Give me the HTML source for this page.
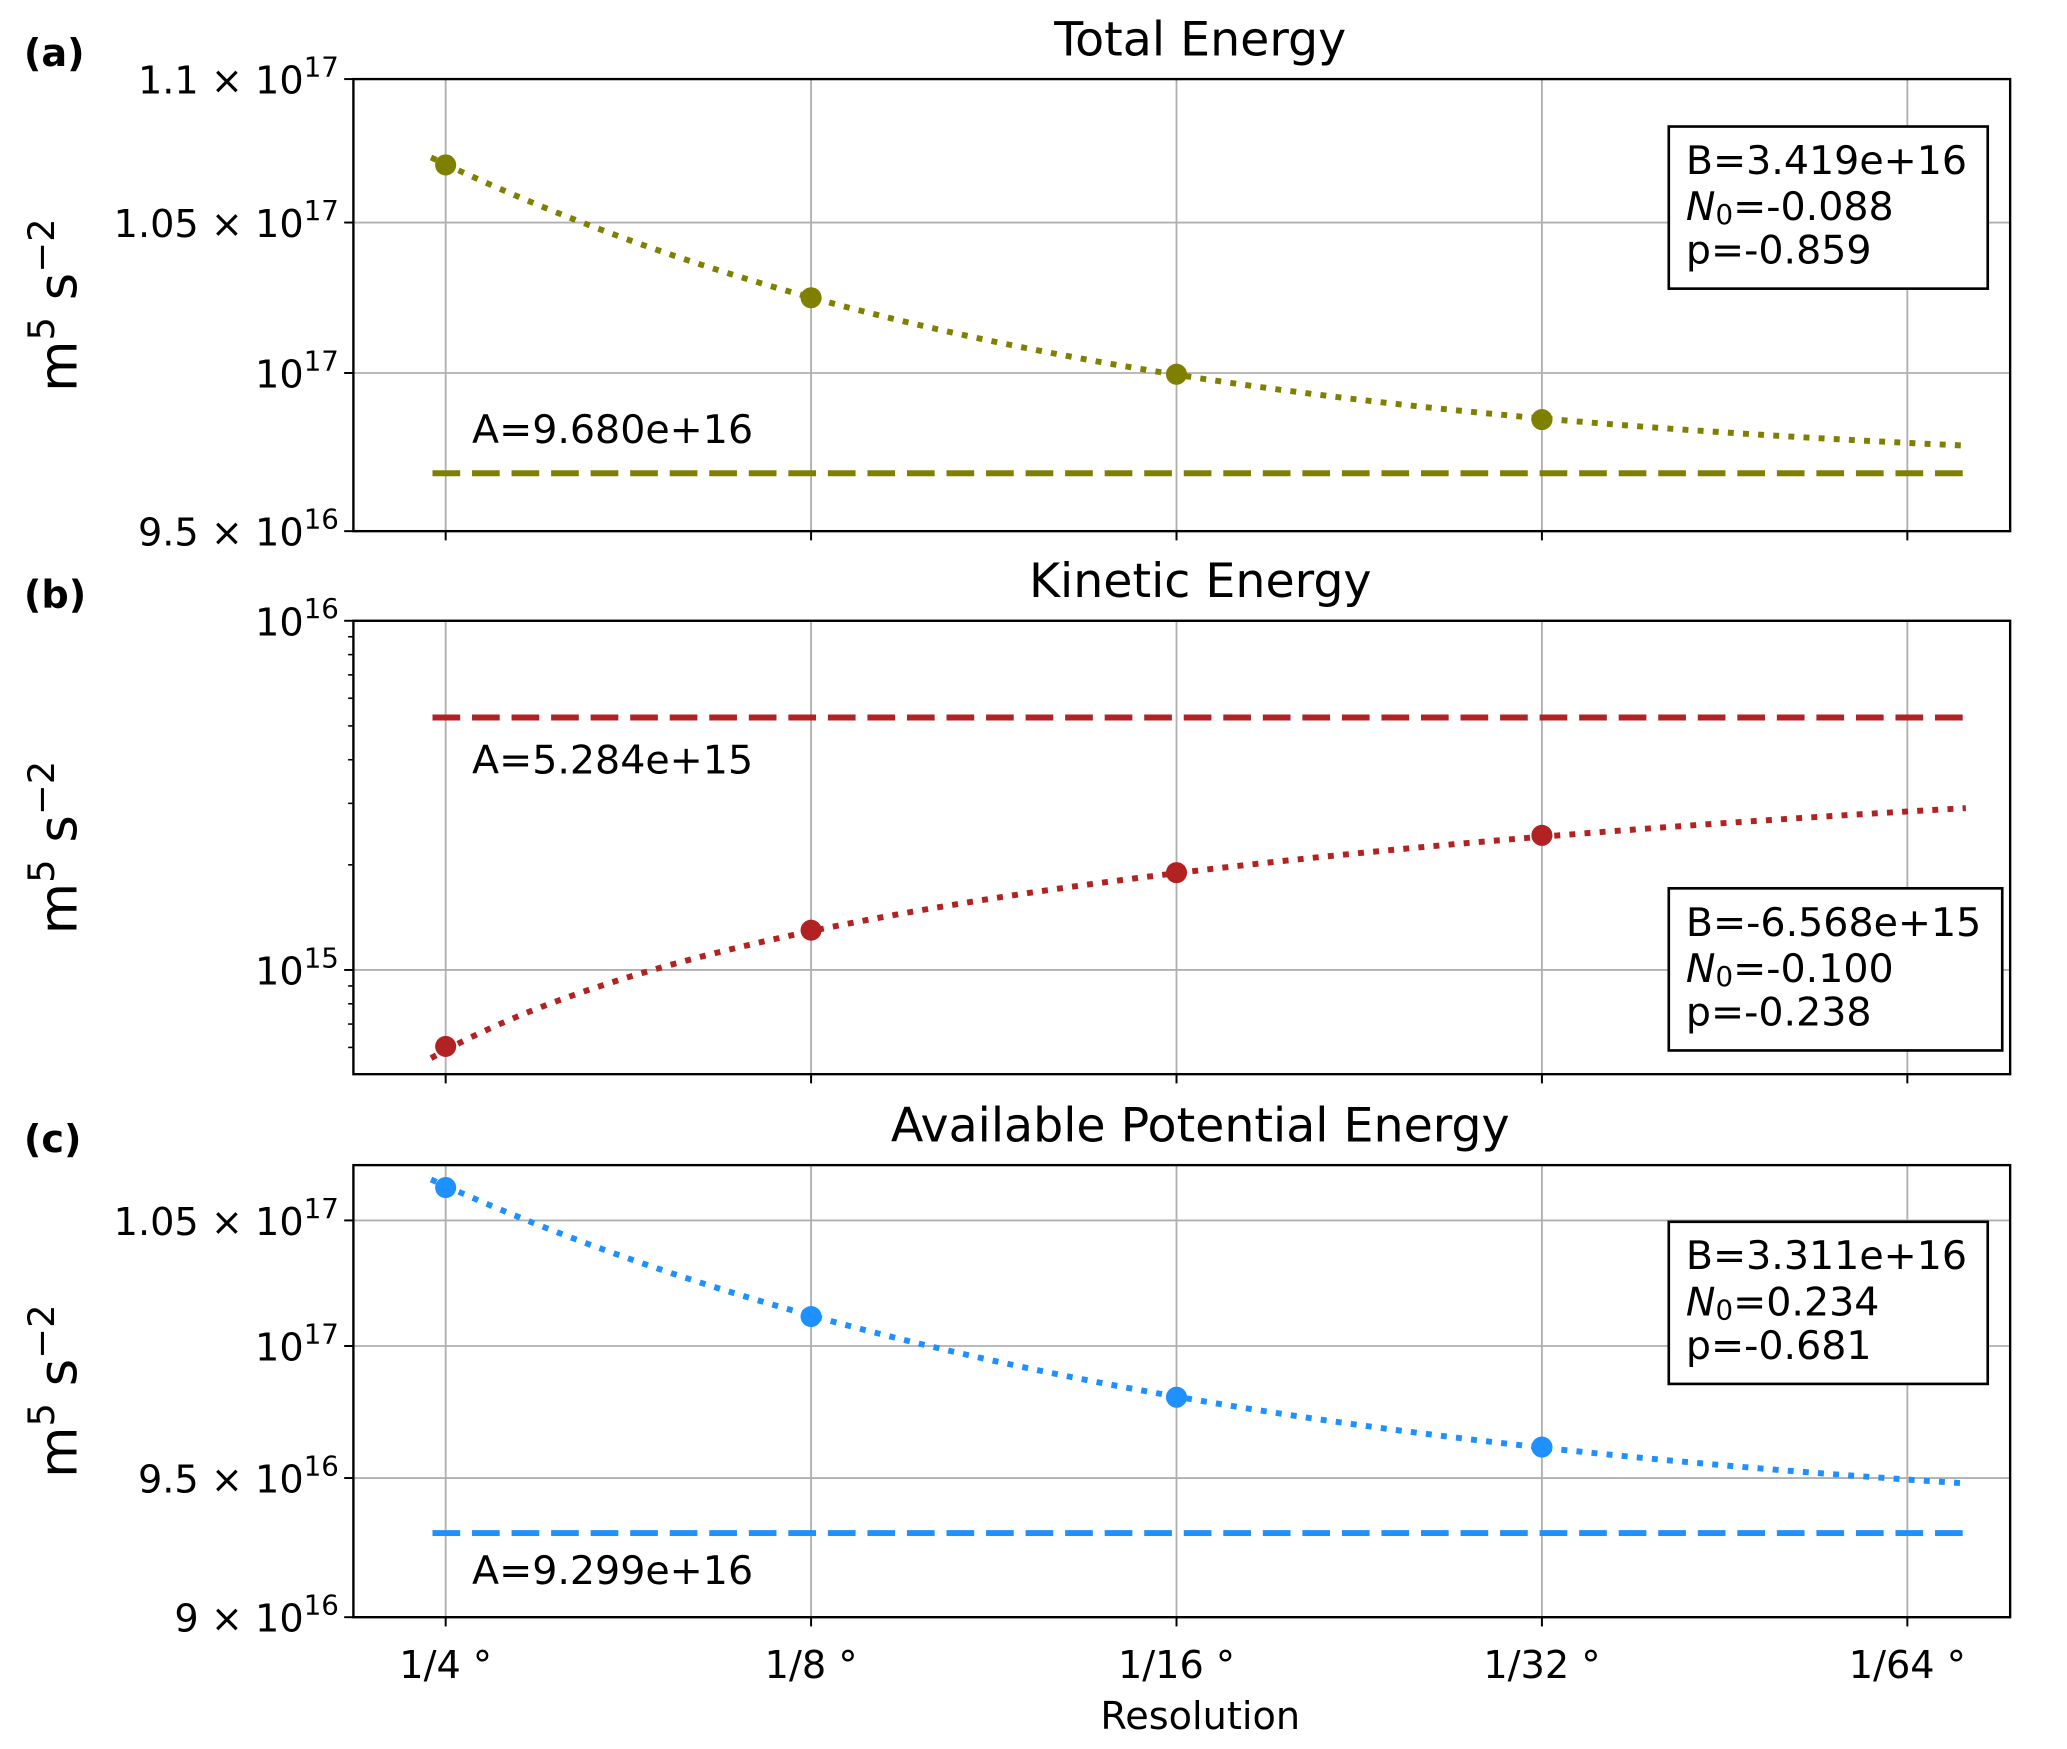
<!DOCTYPE html>
<html><head><meta charset="utf-8"><style>html,body{margin:0;padding:0;background:#fff}svg{display:block}text{font-family:"DejaVu Sans","Liberation Sans",sans-serif}</style></head>
<body>
<svg id="chart" width="2067" height="1749" viewBox="0 0 1568 1327" xmlns="http://www.w3.org/2000/svg"></svg>
<script>
const categories = ["1/4°","1/8°","1/16°","1/32°","1/64°"];
const resolutionN = [4, 8, 16, 32, 64];
const totalValues = [1.0698e17, 1.0247e17, 0.9996e17, 0.985e17];
const kineticValues = [6.04e14, 1.30e15, 1.90e15, 2.43e15];
const apeValues = [1.0635e17, 1.0115e17, 0.9803e17, 0.9615e17];
const totalFit = {A: 9.680e16, B: 3.419e16, N0: -0.088, p: -0.859};
const kineticFit = {A: 5.284e15, B: -6.568e15, N0: -0.100, p: -0.238};
const apeFit = {A: 9.299e16, B: 3.311e16, N0: 0.234, p: -0.681};
const totalTicks = [1.1e17, 1.05e17, 1e17, 9.5e16];
const totalTickLabels = [["1.1 × 10","17"],["1.05 × 10","17"],["10","17"],["9.5 × 10","16"]];
const kineticTicks = [1e16, 1e15];
const kineticTickLabels = [["10","16"],["10","15"]];
const apeTicks = [1.05e17, 1e17, 9.5e16, 9e16];
const apeTickLabels = [["1.05 × 10","17"],["10","17"],["9.5 × 10","16"],["9 × 10","16"]];
const boxTexts = [["B=3.419e+16","-0.088","p=-0.859"],["B=-6.568e+15","-0.100","p=-0.238"],["B=3.311e+16","0.234","p=-0.681"]];
const aTexts = ["A=9.680e+16","A=5.284e+15","A=9.299e+16"];

const svg = document.getElementById('chart');
const NS = 'http://www.w3.org/2000/svg';
function mk(tag, attrs, parent){const e=document.createElementNS(NS,tag);for(const k in attrs)e.setAttribute(k,attrs[k]);(parent||svg).appendChild(e);return e;}

const L=268,R=1525,X0=338,DX=277.25;
const xPos = i => X0 + i*DX;

const panels = [
 {name:'total',title:'Total Energy',letter:'(a)',top:60,bot:403,ymin:9.5e16,ymax:1.1e17,vals:totalValues,fit:totalFit,ticks:totalTicks,labels:totalTickLabels,color:'#808000',box:[1266,96,242,123],aY:325,minor:false},
 {name:'kinetic',title:'Kinetic Energy',letter:'(b)',top:471,bot:815,ymin:5.03e14,ymax:1e16,vals:kineticValues,fit:kineticFit,ticks:kineticTicks,labels:kineticTickLabels,color:'#b22222',box:[1266,674,253,123],aY:576,minor:true},
 {name:'ape',title:'Available Potential Energy',letter:'(c)',top:884,bot:1227,ymin:9e16,ymax:1.0728e17,vals:apeValues,fit:apeFit,ticks:apeTicks,labels:apeTickLabels,color:'#1e90ff',box:[1266,927,242,123],aY:1191,minor:false}
];

panels.forEach((P,pi)=>{
  const g = mk('g',{});
  
  
  const y = v => P.bot - (Math.log(v)-Math.log(P.ymin))/(Math.log(P.ymax)-Math.log(P.ymin))*(P.bot-P.top);
  categories.forEach((c,i)=>{const l=mk('line',{x1:xPos(i),x2:xPos(i),y1:P.top,y2:P.bot,stroke:'#b0b0b0','stroke-width':1.4},g);
    
    });
  P.ticks.forEach((t,i)=>{const yy=y(t);
    const l=mk('line',{x1:L,x2:R,y1:yy,y2:yy,stroke:'#b0b0b0','stroke-width':1.4},g);
    
    
    mk('line',{x1:L-7,x2:L,y1:yy,y2:yy,stroke:'#000','stroke-width':1.5},g);
    const tx=mk('text',{x:L-11,y:yy+11,'text-anchor':'end','font-size':29},g);
    
    
    tx.textContent=P.labels[i][0];
    const sp=mk('tspan',{dy:-13,'font-size':21},tx);sp.textContent=P.labels[i][1];
  });
  if(P.minor){
    for(let d=14;d<=15;d++)for(let m=2;m<=9;m++){const v=m*Math.pow(10,d);if(v<P.ymin||v>P.ymax)continue;const yy=y(v);
      mk('line',{x1:L-4,x2:L,y1:yy,y2:yy,stroke:'#000','stroke-width':1.2},g);}
  }
  categories.forEach((c,i)=>{mk('line',{x1:xPos(i),x2:xPos(i),y1:P.bot,y2:P.bot+7,stroke:'#000','stroke-width':1.5},g);
    if(pi===2){const t=mk('text',{x:xPos(i),y:P.bot+46,'text-anchor':'middle','font-size':29},g);
      
      
      t.textContent=c.replace('°',' °');}
  });
  const ay=y(P.fit.A);
  const al=mk('line',{x1:328,x2:1490,y1:ay,y2:ay,stroke:P.color,'stroke-width':4.5,'stroke-dasharray':'21 9'},g);
  
  
  const at=mk('text',{x:358,y:P.aY+11,'font-size':30},g);
  
  
  at.textContent=aTexts[pi];
  let d='';
  for(let k=0;k<=120;k++){const idx=-0.04+k*(4.2/120);const N=resolutionN[0]*Math.pow(2,idx);
    const v=P.fit.A+P.fit.B*Math.pow(N-P.fit.N0,P.fit.p);d+=(k?'L':'M')+xPos(idx).toFixed(2)+','+y(v).toFixed(2);}
  const fc=mk('path',{d:d,fill:'none',stroke:P.color,'stroke-width':4.5,'stroke-dasharray':'4.5 7'},g);
  
  
  P.vals.forEach((v,i)=>{const c=mk('circle',{cx:xPos(i),cy:y(v),r:8,fill:P.color},g);
    
    });
  mk('rect',{x:L,y:P.top,width:R-L,height:P.bot-P.top,fill:'none',stroke:'#000','stroke-width':1.8},g);
  const [bx,by,bw,bh]=P.box;
  const b=mk('rect',{x:bx,y:by,width:bw,height:bh,fill:'#fff',stroke:'#000','stroke-width':2},g);
  
  
  const t1=mk('text',{x:bx+13,y:by+36,'font-size':30},g);t1.textContent=boxTexts[pi][0];
  const t2=mk('text',{x:bx+13,y:by+71,'font-size':30},g);
  const s1=mk('tspan',{'font-style':'italic'},t2);s1.textContent='N';
  const s2=mk('tspan',{'font-size':21,dy:3},t2);s2.textContent='0';
  const s3=mk('tspan',{dy:-3},t2);s3.textContent='='+boxTexts[pi][1];
  const t3=mk('text',{x:bx+13,y:by+104,'font-size':30},g);t3.textContent=boxTexts[pi][2];
  const tt=mk('text',{x:(L+R)/2+14,y:P.top-18,'text-anchor':'middle','font-size':36},g);
  
  
  tt.textContent=P.title;
  const lt=mk('text',{x:18,y:P.top-10,'font-size':29,'font-weight':'bold'},g);
  
  
  lt.textContent=P.letter;
  const yc=(P.top+P.bot)/2;
  const yl=mk('text',{x:0,y:0,'text-anchor':'middle','font-size':40,transform:`translate(58,${yc}) rotate(-90)`},g);
  
  
  yl.textContent='m';
  const a1=mk('tspan',{dy:-17,'font-size':28},yl);a1.textContent='5';
  const a2=mk('tspan',{dy:17},yl);a2.textContent=' s';
  const a3=mk('tspan',{dy:-17,'font-size':28},yl);a3.textContent='−2';
});
const xl=mk('text',{x:(L+R)/2+14,y:1312,'text-anchor':'middle','font-size':29});


xl.textContent='Resolution';
</script>
</body></html>
